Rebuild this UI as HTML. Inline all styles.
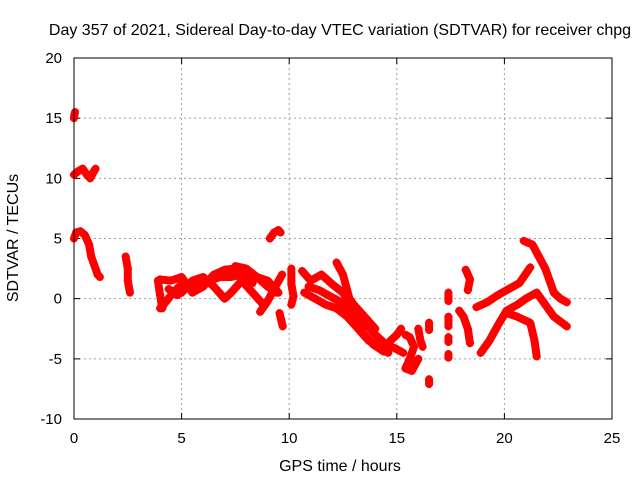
<!DOCTYPE html>
<html><head><meta charset="utf-8"><style>
body{margin:0;background:#fff;}
svg{display:block;font-family:"Liberation Sans",sans-serif;}
</style></head><body>
<svg id="chart" width="640" height="480">
<text x="340" y="35" font-size="16" text-anchor="middle">Day 357 of 2021, Sidereal Day-to-day VTEC variation (SDTVAR) for receiver chpg</text>
<text x="340" y="471" font-size="16" text-anchor="middle">GPS time / hours</text>
<text x="18" y="238" font-size="16" text-anchor="middle" transform="rotate(-90 18 238)">SDTVAR / TECUs</text>
<g id="grid"></g><g id="marks"></g>
<rect x="74" y="58" width="538" height="361" fill="none" stroke="#000" stroke-width="1"/>
</svg>
<script>
const xTicks=[0,5,10,15,20,25];
const yTicks=[-10,-5,0,5,10,15,20];
const tr1=[[0,15.0],[0.02,15.3],[0.05,15.5]];
const tr2=[[0,10.3],[0.2,10.6],[0.4,10.8],[0.6,10.3],[0.75,10.0],[0.9,10.5],[1.0,10.8]];
const tr3=[[0,5.0],[0.1,5.5],[0.3,5.6],[0.5,5.3],[0.7,4.5],[0.8,3.5],[0.9,3.0],[1.0,2.5],[1.1,2.0],[1.2,1.8]];
const tr4=[[2.4,3.5],[2.5,2.5],[2.5,1.5],[2.6,0.5]];
const tr5=[[3.9,1.5],[4.0,0.3],[4.1,-0.8],[4.2,-0.3]];
const tr6=[[4.0,1.6],[4.5,1.5],[5.0,1.8],[5.5,0.5],[6.0,1.0],[6.5,2.0],[7.0,2.4],[7.5,2.5],[8.0,2.2],[8.5,1.8],[9.0,1.0],[9.4,0.5]];
const tr7=[[5.0,0.5],[5.5,1.5],[6.0,1.8],[6.5,1.0],[7.0,0.0],[7.3,0.5],[7.8,1.5],[8.3,0.5],[8.8,-0.5]];
const tr8=[[7.5,2.7],[8.0,2.5],[8.5,1.8],[9.0,1.5],[9.5,0.5]];
const tr9=[[8.65,-1.1],[9.0,-0.2],[9.3,0.8],[9.67,2.0]];
const tr10=[[9.55,-1.2],[9.7,-2.3]];
const tr11=[[9.1,5.0],[9.3,5.5],[9.5,5.7],[9.6,5.5]];
const tr12=[[10.1,2.5],[10.1,1.2],[10.2,0.2],[10.1,-0.5]];
const tr13=[[10.6,2.3],[11.0,1.5],[11.5,2.0],[12.0,1.2],[12.5,0.5],[13.0,-1.0],[13.5,-2.0],[14.0,-3.0],[14.5,-3.8],[15.0,-4.2],[15.3,-4.5]];
const tr14=[[10.7,0.5],[11.2,0.0],[11.7,-0.5],[12.2,-0.8],[12.7,-1.5],[13.2,-2.5],[13.7,-3.5],[14.2,-4.0],[14.6,-4.5]];
const tr15=[[12.2,3.0],[12.5,2.0],[12.8,0.0],[13.0,-0.5],[13.5,-1.5],[14.0,-2.5]];
const tr16=[[14.7,-3.5],[15.0,-3.0],[15.2,-2.5]];
const tr17=[[15.4,-3.0],[15.6,-3.2],[15.8,-4.0],[15.6,-5.0],[15.4,-5.8],[15.7,-6.0],[16.0,-5.0]];
const tr18=[[16.0,-2.5],[16.1,-3.5],[16.2,-4.0]];
const tr19=[[16.5,-6.7],[16.5,-7.1]];
const tr20=[[16.5,-2.0],[16.5,-2.6]];
const tr21=[[17.4,0.5],[17.4,-0.2]];
const tr22=[[17.4,-1.5],[17.4,-2.3]];
const tr23=[[17.4,-3.2],[17.4,-3.6]];
const tr24=[[17.4,-4.6],[17.4,-4.9]];
const tr25=[[18.2,2.4],[18.4,1.6],[18.3,0.7]];
const tr26=[[17.9,-1.0],[18.1,-1.5],[18.3,-2.5],[18.4,-3.7]];
const tr27=[[18.7,-0.7],[19.2,-0.3],[19.7,0.3],[20.2,0.8],[20.7,1.3],[21.2,2.6]];
const tr28=[[18.9,-4.5],[19.3,-3.5],[19.7,-2.2],[20.1,-1.0],[20.6,-0.5],[21.0,0.0],[21.5,0.5],[21.9,-0.5],[22.3,-1.5],[22.9,-2.3]];
const tr29=[[20.1,-1.2],[20.6,-1.5],[21.2,-2.0],[21.4,-3.5],[21.5,-4.8]];
const tr30=[[20.9,4.8],[21.3,4.5],[21.6,3.5],[21.9,2.5],[22.1,1.5],[22.3,0.5],[22.6,0.0],[22.9,-0.3]];
const tr31=[[4.4,0.8],[4.8,0.3],[5.3,1.0],[5.8,1.2],[6.3,1.5],[6.8,1.8],[7.3,1.8],[7.8,2.0],[8.3,1.3]];
const tr32=[[4.0,-0.8],[4.3,-0.2],[4.6,0.5],[5.0,1.2]];
const tr33=[[10.9,1.0],[11.4,0.7],[11.9,0.2],[12.4,-0.3],[12.9,-1.2],[13.4,-2.8],[13.9,-3.8],[14.4,-4.4]];
const tracks=[tr1,tr2,tr3,tr4,tr5,tr6,tr7,tr8,tr9,tr10,tr11,tr12,tr13,tr14,tr15,tr16,tr17,tr18,tr19,tr20,tr21,tr22,tr23,tr24,tr25,tr26,tr27,tr28,tr29,tr30,tr31,tr32,tr33];

const NS="http://www.w3.org/2000/svg";
const X0=74,X1=612,Y0=419,Y1=58;
function sx(t){return X0+(t-0)/(25-0)*(X1-X0);}
function sy(v){return Y0-(v+10)/30*(Y0-Y1);}
const grid=document.getElementById('grid');
const marks=document.getElementById('marks');
xTicks.forEach(t=>{
  const x=sx(t);
  if(t>0&&t<25){const g=document.createElementNS(NS,'line');
    g.setAttribute('x1',x);g.setAttribute('x2',x);g.setAttribute('y1',Y1);g.setAttribute('y2',Y0);
    g.setAttribute('stroke','#a0a0a0');g.setAttribute('stroke-dasharray','2,3');
    
    
    grid.appendChild(g);}
  const tk=document.createElementNS(NS,'path');
  tk.setAttribute('d',`M${x},${Y0}v-6M${x},${Y1}v6`);tk.setAttribute('stroke','#000');
  
  
  grid.appendChild(tk);
  const l=document.createElementNS(NS,'text');
  l.setAttribute('x',x);l.setAttribute('y',443);l.setAttribute('font-size','15');l.setAttribute('text-anchor','middle');
  l.textContent=t;
  
  
  grid.appendChild(l);
});
yTicks.forEach(v=>{
  const y=sy(v);
  if(v>-10&&v<20){const g=document.createElementNS(NS,'line');
    g.setAttribute('x1',X0);g.setAttribute('x2',X1);g.setAttribute('y1',y);g.setAttribute('y2',y);
    g.setAttribute('stroke','#a0a0a0');g.setAttribute('stroke-dasharray','2,3');
    
    
    grid.appendChild(g);}
  const tk=document.createElementNS(NS,'path');
  tk.setAttribute('d',`M${X0},${y}h6M${X1},${y}h-6`);tk.setAttribute('stroke','#000');
  
  
  grid.appendChild(tk);
  const l=document.createElementNS(NS,'text');
  l.setAttribute('x',62);l.setAttribute('y',y+5);l.setAttribute('font-size','15');l.setAttribute('text-anchor','end');
  l.textContent=v;
  
  
  grid.appendChild(l);
});
tracks.forEach(tr=>{
  const p=document.createElementNS(NS,'polyline');
  p.setAttribute('points',tr.map(d=>sx(d[0])+','+sy(d[1])).join(' '));
  p.setAttribute('fill','none');p.setAttribute('stroke','#f00');p.setAttribute('stroke-width','8');
  p.setAttribute('stroke-linejoin','round');p.setAttribute('stroke-linecap','round');
  
  
  marks.appendChild(p);
  tr.forEach(d=>{
    const m=document.createElementNS(NS,'path');
    const x=sx(d[0]),y=sy(d[1]);
    m.setAttribute('d',`M${x-4},${y}h8M${x},${y-4}v8`);
    m.setAttribute('stroke','#f00');m.setAttribute('stroke-width','1.5');
    
    
    marks.appendChild(m);
  });
});
</script>
</body></html>
